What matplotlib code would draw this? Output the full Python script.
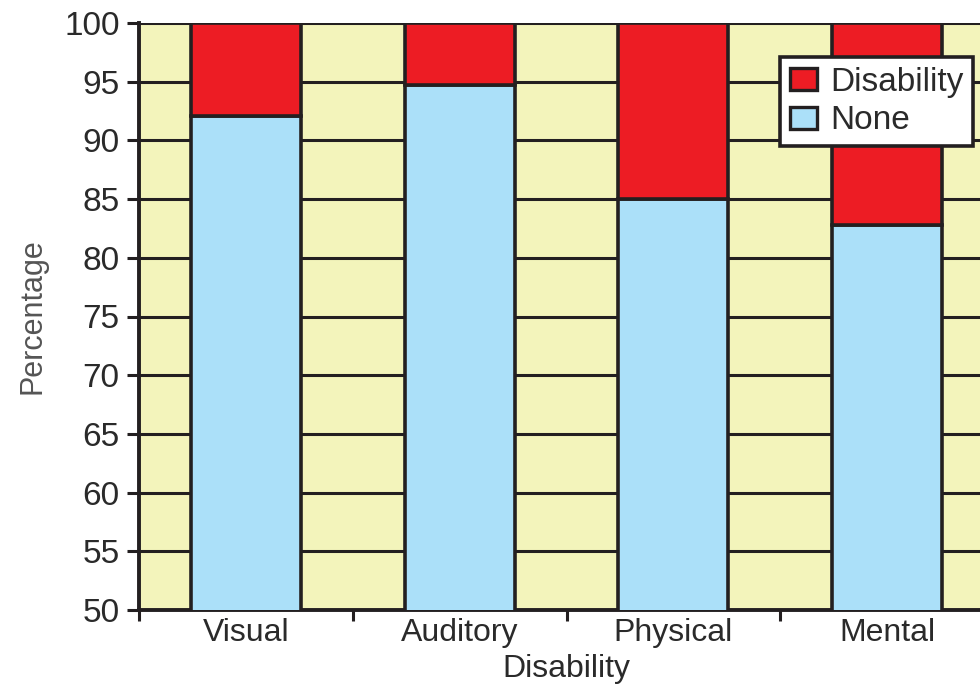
import matplotlib
matplotlib.use('Agg')
import matplotlib.pyplot as plt
import numpy as np

categories = ['Visual', 'Auditory', 'Physical', 'Mental']
none_pct = [92.1, 94.75, 85.0, 82.8]
disability_pct = [100 - v for v in none_pct]
y_ticks = list(range(50, 101, 5))

RED = '#ed1c24'
BLUE = '#abe0f9'
BG = '#f3f4bb'
EDGE = '#231f20'
TXT = '#2a2a2a'

plt.rcParams['font.family'] = ['Liberation Sans', 'DejaVu Sans']

fig = plt.figure(figsize=(9.8, 6.85), dpi=100)
# right edge of the axes runs past the figure, as in the reference
ax = fig.add_axes([139 / 980, 1 - 610 / 685, 855 / 980, (610 - 23) / 685])
ax.set_facecolor(BG)

x = np.arange(len(categories))
ax.bar(x, none_pct, width=0.515, color=BLUE, edgecolor=EDGE, linewidth=2.6,
       label='None', zorder=3)
ax.bar(x, disability_pct, width=0.515, bottom=none_pct, color=RED, edgecolor=EDGE,
       linewidth=2.6, label='Disability', zorder=3)

ax.set_xlim(-0.5, len(categories) - 0.5)
ax.set_ylim(50, 100)
ax.set_yticks(y_ticks)
ax.set_yticklabels([str(t) for t in y_ticks], fontsize=24, color=TXT)
ax.yaxis.grid(True, color=EDGE, linewidth=2.2, zorder=1)
ax.set_axisbelow(True)

# category labels at bar centres, tick marks at slot boundaries
ax.set_xticks(x)
ax.set_xticklabels(categories, fontsize=23, color=TXT)
ax.tick_params(axis='x', which='major', length=0, pad=6)
ax.set_xticks(np.arange(-0.5, len(categories), 1.0), minor=True)
ax.tick_params(axis='x', which='minor', length=8, width=2.2, color=EDGE)
ax.tick_params(axis='y', length=9, width=2.2, color=EDGE, pad=5)

for side in ['top', 'right']:
    ax.spines[side].set_visible(False)
for side in ['left', 'bottom']:
    ax.spines[side].set_color(EDGE)
    ax.spines[side].set_linewidth(2.8)

ax.set_ylabel('Percentage', fontsize=22, color='#555555', labelpad=12)
ax.set_xlabel('Disability', fontsize=23, color=TXT, labelpad=4)

handles, labels = ax.get_legend_handles_labels()
leg = ax.legend(handles[::-1], labels[::-1], loc='upper left',
                bbox_to_anchor=(780 / 980, 1 - 57 / 685), bbox_transform=fig.transFigure,
                fontsize=24, frameon=True, fancybox=False, handlelength=0.8,
                handleheight=0.65, handletextpad=0.4, borderpad=0.3, labelspacing=0.22,
                borderaxespad=0)
leg.get_frame().set_edgecolor(EDGE)
leg.get_frame().set_linewidth(2.6)
leg.get_frame().set_facecolor('white')
leg.get_frame().set_alpha(1)
for t in leg.get_texts():
    t.set_color(TXT)
for p in leg.get_patches():
    p.set_linewidth(2.4)
leg.set_zorder(5)

fig.savefig('out.png', dpi=100)
